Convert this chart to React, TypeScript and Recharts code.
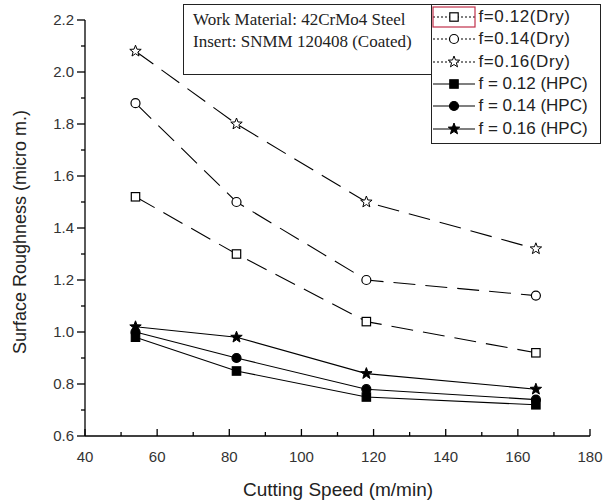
import React from "react";
import { LineChart, Line, XAxis, YAxis, Legend, Label } from "recharts";

document.body.style.margin = "0";

const speeds = [54, 82, 118, 165];
const dry012 = [1.52, 1.3, 1.04, 0.92];
const dry014 = [1.88, 1.5, 1.2, 1.14];
const dry016 = [2.08, 1.8, 1.5, 1.32];
const hpc012 = [0.98, 0.85, 0.75, 0.72];
const hpc014 = [1.0, 0.9, 0.78, 0.74];
const hpc016 = [1.02, 0.98, 0.84, 0.78];

const xTicks = [40, 50, 60, 70, 80, 90, 100, 110, 120, 130, 140, 150, 160, 170, 180];
const yTicks = [0.6, 0.7, 0.8, 0.9, 1.0, 1.1, 1.2, 1.3, 1.4, 1.5, 1.6, 1.7, 1.8, 1.9, 2.0, 2.1, 2.2];

const data = speeds.map((s, i) => ({
  speed: s,
  dry012: dry012[i],
  dry014: dry014[i],
  dry016: dry016[i],
  hpc012: hpc012[i],
  hpc014: hpc014[i],
  hpc016: hpc016[i],
}));

type Shape = "square" | "circle" | "star";

const series: { key: string; name: string; shape: Shape; filled: boolean }[] = [
  { key: "dry012", name: "f=0.12(Dry)", shape: "square", filled: false },
  { key: "dry014", name: "f=0.14(Dry)", shape: "circle", filled: false },
  { key: "dry016", name: "f=0.16(Dry)", shape: "star", filled: false },
  { key: "hpc012", name: "f = 0.12 (HPC)", shape: "square", filled: true },
  { key: "hpc014", name: "f = 0.14 (HPC)", shape: "circle", filled: true },
  { key: "hpc016", name: "f = 0.16 (HPC)", shape: "star", filled: true },
];

const SANS = "Liberation Sans, Arial, sans-serif";

function starPath(cx: number, cy: number, ro: number, ri: number) {
  let d = "";
  for (let i = 0; i < 10; i++) {
    const r = i % 2 === 0 ? ro : ri;
    const a = -Math.PI / 2 + (i * Math.PI) / 5;
    d += (i === 0 ? "M" : "L") + (cx + r * Math.cos(a)).toFixed(2) + "," + (cy + r * Math.sin(a)).toFixed(2);
  }
  return d + "Z";
}

function Marker({ cx, cy, shape, filled }: { cx: number; cy: number; shape: Shape; filled: boolean }) {
  const fill = filled ? "#000" : "#fff";
  if (shape === "square")
    return <rect x={cx - 4.2} y={cy - 4.2} width={8.4} height={8.4} fill={fill} stroke="#000" strokeWidth={1.2} />;
  if (shape === "circle") return <circle cx={cx} cy={cy} r={4.5} fill={fill} stroke="#000" strokeWidth={1.2} />;
  return <path d={starPath(cx, cy, 6, 2.5)} fill={fill} stroke="#000" strokeWidth={1} />;
}

const YTick = (props: any) => {
  const { x, y, payload } = props;
  const v = Math.round(payload.value * 10);
  const major = v % 2 === 0;
  return (
    <g>
      <line x1={x - (major ? 8 : 4)} x2={x} y1={y} y2={y} stroke="#000" strokeWidth={1.3} />
      {major && (
        <text x={x - 11} y={y + 5} textAnchor="end" fontSize={15} fill="#333" fontFamily={SANS}>
          {(v / 10).toFixed(1)}
        </text>
      )}
    </g>
  );
};

const XTick = (props: any) => {
  const { x, y, payload } = props;
  const major = payload.value % 20 === 0;
  return (
    <g>
      <line x1={x} x2={x} y1={y} y2={y - (major ? 7 : 4)} stroke="#000" strokeWidth={1.3} />
      {major && (
        <text x={x} y={y + 26} textAnchor="middle" fontSize={15} fill="#333" fontFamily={SANS}>
          {payload.value}
        </text>
      )}
    </g>
  );
};

const renderLegend = () => (
  <div style={{ display: "flex", alignItems: "flex-start" }}>
    <div
      style={{
        width: 249,
        height: 71,
        border: "1.5px solid #222",
        fontFamily: "Liberation Serif, Times New Roman, serif",
        fontSize: 17,
        lineHeight: "22px",
        color: "#222",
        padding: "4px 0 0 9px",
        boxSizing: "border-box",
        whiteSpace: "nowrap",
      }}
    >
      <div>Work Material: 42CrMo4 Steel</div>
      <div>Insert: SNMM 120408 (Coated)</div>
    </div>
    <div
      style={{
        marginLeft: -1.5,
        width: 170,
        height: 140,
        border: "1.5px solid #222",
        padding: "1px 0 0 0",
        boxSizing: "border-box",
        fontFamily: SANS,
        fontSize: 17,
        color: "#222",
      }}
    >
      {series.map((s, i) => (
        <div key={s.key} style={{ display: "flex", alignItems: "center", height: 22.3, whiteSpace: "nowrap" }}>
          <svg width={44} height={22} style={{ flex: "none" }}>
            <line x1={1} x2={43} y1={11} y2={11} stroke="#000" strokeWidth={1.2} strokeDasharray={s.filled ? undefined : "2 2"} />
            <Marker cx={22} cy={11} shape={s.shape} filled={s.filled} />
            {i === 0 && <rect x={1} y={1} width={42} height={20} fill="none" stroke="#c0304a" strokeWidth={1.2} />}
          </svg>
          <span style={{ marginLeft: 3, letterSpacing: s.filled ? 0 : 0.6 }}>{s.name}</span>
        </div>
      ))}
    </div>
  </div>
);

export default function App() {
  return (
    <div style={{ width: 603, height: 504, background: "#fff", overflow: "hidden" }}>
      <LineChart width={603} height={504} data={data} margin={{ top: 20, right: 13, bottom: 0, left: 0 }}>
        <XAxis
          dataKey="speed"
          type="number"
          domain={[40, 180]}
          ticks={xTicks}
          interval={0}
          height={68}
          tickSize={0}
          tickMargin={0}
          tickLine={false}
          tick={<XTick />}
          axisLine={{ stroke: "#000", strokeWidth: 1.3 }}
        >
          <Label
            content={() => (
              <text x={338} y={496} textAnchor="middle" fontSize={19} fill="#222" fontFamily={SANS}>
                Cutting Speed (m/min)
              </text>
            )}
          />
        </XAxis>
        <YAxis
          type="number"
          domain={[0.6, 2.2]}
          ticks={yTicks}
          interval={0}
          width={85}
          tickSize={0}
          tickMargin={0}
          tickLine={false}
          tick={<YTick />}
          axisLine={{ stroke: "#000", strokeWidth: 1.3 }}
        >
          <Label
            content={() => (
              <text
                x={0}
                y={0}
                transform="translate(26 232) rotate(-90)"
                textAnchor="middle"
                fontSize={18}
                fill="#222"
                fontFamily={SANS}
              >
                Surface Roughness (micro m.)
              </text>
            )}
          />
        </YAxis>
        <Legend
          layout="vertical"
          align="center"
          verticalAlign="middle"
          content={renderLegend}
          wrapperStyle={{ position: "absolute", top: 4, left: 183, width: "auto", height: "auto" }}
        />
        {series.map((s) => (
          <Line
            key={s.key}
            dataKey={s.key}
            name={s.name}
            type="linear"
            stroke="#000"
            strokeWidth={1.1}
            strokeDasharray={s.filled ? undefined : "22 10"}
            isAnimationActive={false}
            dot={(p: any) => <Marker key={s.key + p.index} cx={p.cx} cy={p.cy} shape={s.shape} filled={s.filled} />}
            activeDot={false}
          />
        ))}
      </LineChart>
    </div>
  );
}
